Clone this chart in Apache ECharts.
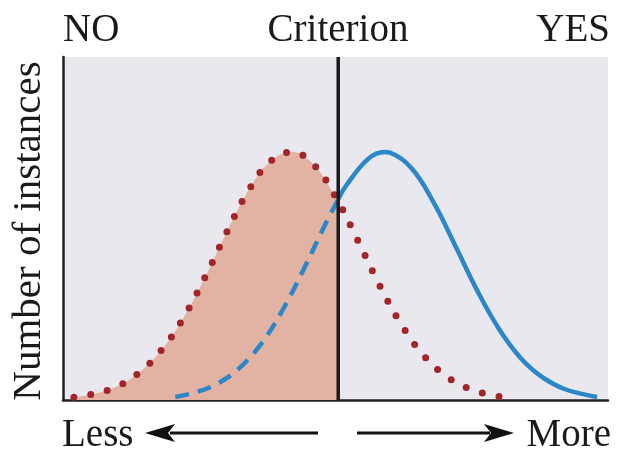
<!DOCTYPE html>
<html>
<head>
<meta charset="utf-8">
<script src="https://cdn.jsdelivr.net/npm/echarts@6/dist/echarts.min.js"></script>
<style>html,body{margin:0;padding:0;background:#fff;}#c{width:637px;height:472px;}</style>
</head>
<body>
<div id="c"></div>
<script>
// Data (x: position along decision axis 0-100, y: number of instances 0-100)
const criterionX = 50.5;
const noX  = [2, 6, 10, 14, 18, 22, 26, 30, 34, 38, 42, 46, 50, 54, 58, 62, 66, 70, 74, 78, 80];
const noY  = [0.8, 1.9, 4.0, 8.0, 14.4, 23.7, 35.6, 48.8, 61.0, 69.5, 72.3, 68.6, 59.3, 46.8, 33.7, 22.2, 13.3, 7.3, 3.6, 1.6, 1.0];
const shadeX = [2, 6, 10, 14, 18, 22, 26, 30, 34, 38, 42, 46, 50, 50.5];
const shadeY = [0.8, 1.9, 4.0, 8.0, 14.4, 23.7, 35.6, 48.8, 61.0, 69.5, 72.3, 68.6, 59.3, 57.9];
const yesMissX = [20.6, 24, 28, 32, 36, 40, 44, 48, 50.5];
const yesMissY = [0.9, 2.1, 4.5, 8.8, 15.6, 25.4, 37.6, 50.8, 58.5];
const yesHitX  = [50.5, 52, 56, 59, 60, 64, 68, 72, 76, 80, 84, 88, 92, 96, 98];
const yesHitY  = [58.5, 62.6, 70.3, 72.3, 72.1, 67.5, 57.6, 44.9, 31.9, 20.7, 12.2, 6.6, 3.2, 1.5, 0.9];
const topLabels = ['NO', 'Criterion', 'YES'];
const bottomLabels = ['Less', 'More'];
const yTitle = 'Number of instances';

const zip = (xs, ys) => xs.map((x, i) => [x, ys[i]]);
const FONT = '39px "Liberation Serif", "Times New Roman", serif';
const TXT = '#1a1a1a';

const chart = echarts.init(document.getElementById('c'), null, {renderer: 'canvas'});
chart.setOption({
  animation: false,
  backgroundColor: '#ffffff',
  grid: {left: 63, right: 29, top: 57, bottom: 72, show: true, backgroundColor: '#e8e8ee', borderWidth: 0},
  xAxis: {type: 'value', min: 0, max: 100,
    axisLine: {show: true, onZero: false, lineStyle: {color: '#222', width: 2.5}},
    axisTick: {show: false}, axisLabel: {show: false}, splitLine: {show: false}},
  yAxis: {type: 'value', min: 0, max: 100,
    axisLine: {show: true, onZero: false, lineStyle: {color: '#222', width: 2.5}},
    axisTick: {show: false}, axisLabel: {show: false}, splitLine: {show: false}},
  series: [
    {type: 'line', data: zip(shadeX, shadeY), smooth: 0.4, symbol: 'none',
      lineStyle: {width: 0}, areaStyle: {color: '#e2b2a2', opacity: 1}, z: 1},
    {type: 'line', data: zip(yesMissX, yesMissY), smooth: 0.4, symbol: 'none',
      lineStyle: {color: '#2b87c7', width: 4.5, type: [14, 9]}, z: 3},
    {type: 'line', data: zip(yesHitX, yesHitY), smooth: 0.4, symbol: 'none',
      lineStyle: {color: '#2b87c7', width: 4.5}, z: 3},
    {type: 'line', data: zip(noX, noY), smooth: 0.4, symbol: 'none',
      lineStyle: {color: '#a3252c', width: 7, type: [0, 17], cap: 'round'}, z: 4},
    {type: 'line', data: [[criterionX, 0], [criterionX, 100]], symbol: 'none',
      lineStyle: {color: '#1a1a1a', width: 3.5}, z: 5}
  ],
  graphic: [
    {type: 'text', x: 63, y: 31, style: {text: topLabels[0], font: FONT, fill: TXT, align: 'left', verticalAlign: 'middle'}},
    {type: 'text', x: 338, y: 31, style: {text: topLabels[1], font: FONT, fill: TXT, align: 'center', verticalAlign: 'middle'}},
    {type: 'text', x: 610, y: 31, style: {text: topLabels[2], font: FONT, fill: TXT, align: 'right', verticalAlign: 'middle'}},
    {type: 'text', x: 62, y: 436, style: {text: bottomLabels[0], font: FONT, fill: TXT, align: 'left', verticalAlign: 'middle'}},
    {type: 'text', x: 611, y: 436, style: {text: bottomLabels[1], font: FONT, fill: TXT, align: 'right', verticalAlign: 'middle'}},
    {type: 'text', x: 29, y: 231, rotation: Math.PI / 2,
      style: {text: yTitle, font: '41px "Liberation Serif", "Times New Roman", serif', fill: TXT, align: 'center', verticalAlign: 'middle'}},
    {type: 'line', shape: {x1: 170, y1: 433, x2: 318, y2: 433}, style: {stroke: '#111', lineWidth: 3}},
    {type: 'polygon', shape: {points: [[145, 433], [175, 424], [168, 433], [175, 442]]}, style: {fill: '#111'}},
    {type: 'line', shape: {x1: 357, y1: 433, x2: 490, y2: 433}, style: {stroke: '#111', lineWidth: 3}},
    {type: 'polygon', shape: {points: [[514, 433], [484, 424], [491, 433], [484, 442]]}, style: {fill: '#111'}}
  ]
});
</script>
</body>
</html>
